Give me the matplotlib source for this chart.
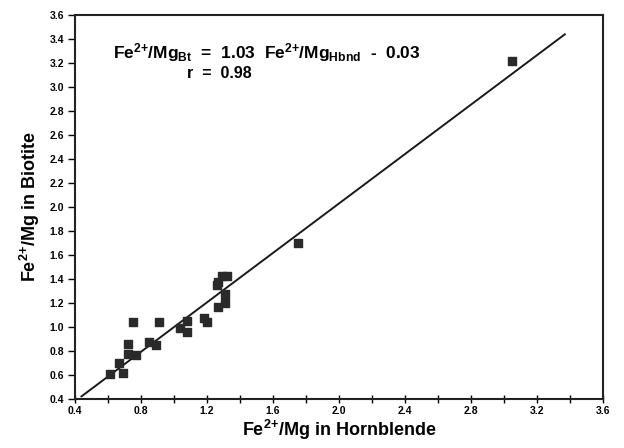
import matplotlib
matplotlib.use('Agg')
import matplotlib.pyplot as plt
import numpy as np
from matplotlib.ticker import MultipleLocator, FormatStrFormatter

plt.rcParams['font.family'] = ['Liberation Sans', 'DejaVu Sans']
plt.rcParams['font.weight'] = 'bold'
plt.rcParams['mathtext.fontset'] = 'custom'
plt.rcParams['mathtext.rm'] = 'Liberation Sans:bold'
plt.rcParams['mathtext.it'] = 'Liberation Sans:bold'
plt.rcParams['mathtext.bf'] = 'Liberation Sans:bold'

### DATA
fe_mg_hbl = [0.61, 0.69, 0.67, 0.72, 0.72, 0.77, 0.75, 0.85, 0.89, 0.91,
             1.04, 1.08, 1.08, 1.18, 1.20, 1.26, 1.27, 1.29, 1.32, 1.31,
             1.31, 1.27, 1.75, 3.05]
fe_mg_bt = [0.61, 0.62, 0.70, 0.86, 0.78, 0.77, 1.04, 0.88, 0.85, 1.04,
            0.99, 0.96, 1.05, 1.08, 1.04, 1.35, 1.38, 1.43, 1.43, 1.28,
            1.20, 1.17, 1.70, 3.22]
slope, intercept = 1.03, -0.03
fit_range = [0.44, 3.37]

fig = plt.figure(figsize=(6.24, 4.48), dpi=100)
ax = fig.add_axes([0.120, 0.109, 0.846, 0.857])

ax.scatter(fe_mg_hbl, fe_mg_bt, marker='s', s=26, color='#2a2a2a', zorder=3)

xf = np.array(fit_range)
ax.plot(xf, slope * xf + intercept, color='#1a1a1a', lw=1.4)

ax.set_xlim(0.4, 3.6)
ax.set_ylim(0.4, 3.6)
ax.xaxis.set_major_locator(MultipleLocator(0.4))
ax.xaxis.set_minor_locator(MultipleLocator(0.2))
ax.yaxis.set_major_locator(MultipleLocator(0.2))
ax.xaxis.set_major_formatter(FormatStrFormatter('%.1f'))
ax.yaxis.set_major_formatter(FormatStrFormatter('%.1f'))
ax.tick_params(axis='x', which='both', direction='inout', length=6, width=1, labelsize=7.5, pad=2)
ax.tick_params(axis='y', direction='out', length=5, width=1, labelsize=7.5, pad=3)
for s in ax.spines.values():
    s.set_linewidth(1.5)
    s.set_color('#222222')

ax.set_xlabel(r'Fe$^{2{+}}$/Mg in Hornblende', fontsize=13, fontweight='bold', labelpad=1)
ax.set_ylabel(r'Fe$^{2{+}}$/Mg in Biotite', fontsize=13, fontweight='bold', labelpad=5)

ax.text(0.072, 0.872, r'Fe$^{2{+}}$/Mg$_{\mathrm{Bt}}$  =  1.03  Fe$^{2{+}}$/Mg$_{\mathrm{Hbnd}}$  -  0.03',
        transform=ax.transAxes, fontsize=12.5, fontweight='bold', va='bottom', ha='left')
ax.text(0.212, 0.828, 'r  =  0.98', transform=ax.transAxes, fontsize=11.5,
        fontweight='bold', va='bottom', ha='left')

fig.savefig('out.png', dpi=100)
